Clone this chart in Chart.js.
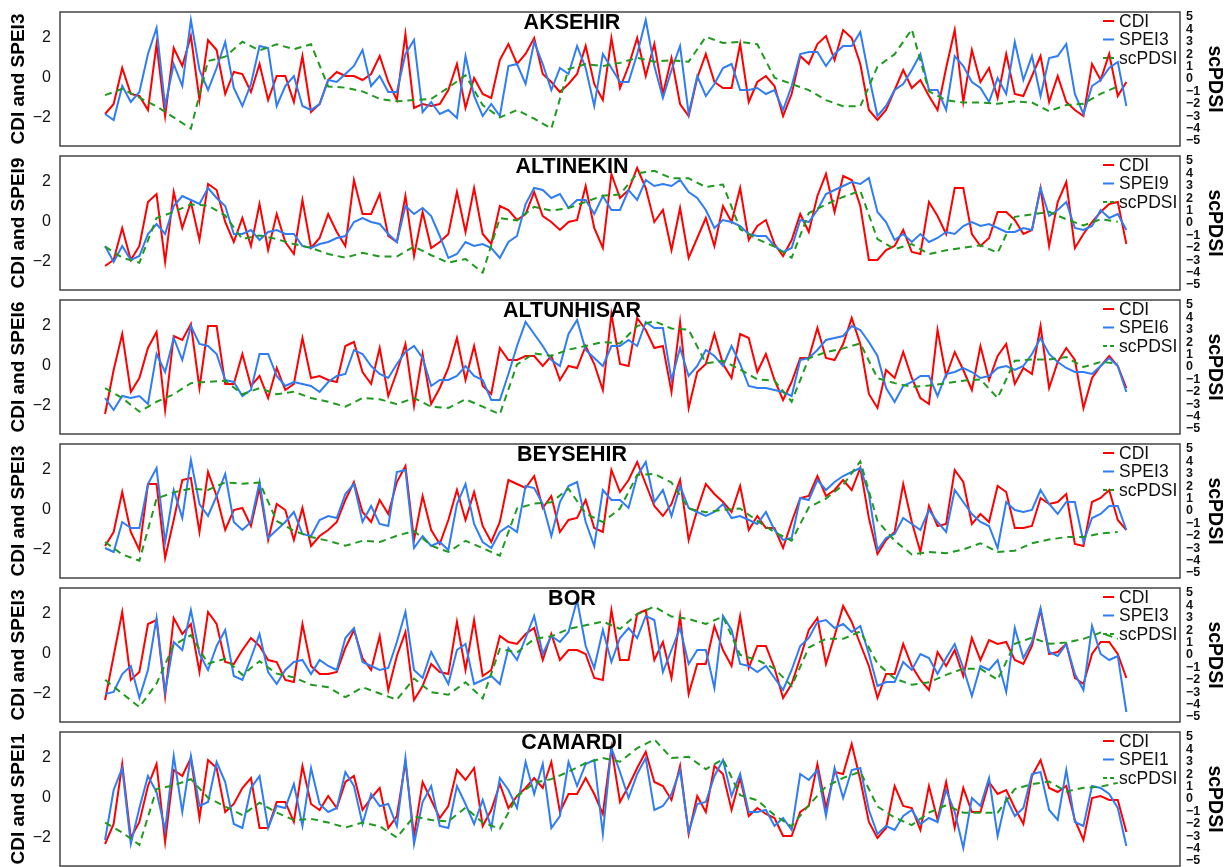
<!DOCTYPE html>
<html><head><meta charset="utf-8">
<script src="https://cdn.jsdelivr.net/npm/chart.js@4.4.1/dist/chart.umd.min.js"></script>
<style>
html,body{margin:0;padding:0;background:#fff;width:1224px;height:867px;overflow:hidden;position:relative;}
canvas{position:absolute;left:0;}
</style></head><body>
<script>
// ---------- categories / labels ----------
const STATIONS = ['AKSEHIR','ALTINEKIN','ALTUNHISAR','BEYSEHIR','BOR','CAMARDI'];
const SPEI_NAMES = ['SPEI3','SPEI9','SPEI6','SPEI3','SPEI3','SPEI1'];
const LEFT_TICKS = [-2,0,2];
const RIGHT_TICKS = [-5,-4,-3,-2,-1,0,1,2,3,4,5];
const CDI_STEP = 2;   // months between CDI / SPEI samples
const PDSI_STEP = 4;  // months between scPDSI samples

// ---------- AKSEHIR ----------
const AKS_CDI = [-1.8,-1.3,0.5,-0.8,-0.9,-1.6,1.7,-1.9,1.5,0.6,
 2.1,-1.1,1.9,1.4,-0.8,0.3,0.2,-0.7,0.7,-1.1,
 0.1,0.1,-1.2,1.1,-1.7,-1.3,-0.1,0.3,0.1,0.1,
 -0.1,0.2,1.1,-0.2,-1.1,2.2,-1.5,-1.3,-1.4,-1.3,
 -0.6,0.7,-1.5,0.0,-0.8,-1.0,0.9,1.7,0.7,1.2,
 2.0,0.2,-0.2,-0.7,-0.3,0.2,1.6,-0.3,-1.1,2.0,
 -0.5,0.6,2.0,0.1,1.7,-0.8,1.0,-1.3,-1.9,0.0,
 1.2,-0.2,-0.5,-0.5,1.7,-1.2,-0.2,0.1,-0.4,-1.9,
 -0.8,1.1,0.7,1.7,2.1,0.9,2.4,2.0,0.7,-1.6,
 -2.1,-1.6,-0.6,0.4,-0.5,-0.1,-0.9,-1.6,0.5,2.4,
 -1.2,1.4,-0.2,0.5,-1.0,1.2,-0.8,-0.9,0.1,1.1,
 -1.2,0.1,-1.2,-1.6,-1.9,0.7,-0.1,1.2,-0.9,-0.2];
const AKS_SPEI = [-1.8,-2.1,-0.4,-1.2,-0.7,1.2,2.5,-1.4,0.7,-0.4,
 2.9,0.4,-0.6,0.5,1.8,-0.5,-1.4,-0.3,1.6,1.5,
 -1.4,-0.4,0.1,-1.4,-1.6,-1.3,-0.1,-0.2,0.2,0.6,
 1.4,-0.4,0.1,-0.7,-0.7,1.2,1.9,-1.7,-1.2,-1.8,
 -1.6,-2.0,1.1,-0.9,-1.9,-1.3,-1.9,0.6,0.7,-0.3,
 1.8,0.7,-0.6,0.5,0.2,1.6,0.5,-1.4,1.2,0.5,
 -0.2,-0.2,1.2,2.9,0.6,-1.0,0.4,1.6,-1.8,0.1,
 -0.9,-0.3,0.5,0.7,-0.6,-0.6,-0.5,-0.8,-0.6,-1.6,
 -0.4,1.2,1.3,1.3,0.6,1.2,1.6,1.6,2.3,0.1,
 -1.9,-1.4,-0.6,-0.3,0.4,1.2,-0.6,-0.6,-1.6,1.1,
 0.6,-0.2,-0.5,-1.2,0.0,-0.8,1.8,-0.1,1.1,-0.9,
 1.0,1.1,1.7,-0.8,-1.8,-0.4,-0.1,0.5,0.8,-1.4];
const AKS_PDSI = [-1.3,-0.8,-1.5,-2.2,-3.1,-4.0,1.45,1.8,3.0,2.3,
 2.8,2.4,2.8,-0.6,-0.7,-1.0,-1.6,-1.8,-1.7,-1.6,
 -0.7,0.3,-2.1,-3.1,-2.5,-3.2,-4.0,0.8,1.2,1.05,
 1.3,1.7,1.4,1.5,1.4,3.4,2.9,3.0,2.8,0.1,
 -0.4,-0.9,-1.7,-2.2,-2.2,1.0,2.0,4.0,-1.0,-1.7,
 -1.9,-1.9,-2.0,-1.8,-1.9,-2.6,-2.1,-2.0,-1.2,-0.6];

// ---------- ALTINEKIN ----------
const ALT_CDI = [-2.2,-1.9,-0.3,-1.9,-1.2,1.0,1.4,-2.0,1.5,-0.3,
 1.0,-0.9,1.9,1.6,0.0,-1.0,0.2,-1.2,0.9,-1.4,
 0.4,-1.0,-1.6,1.1,-1.3,-0.8,0.4,-0.5,-1.2,2.1,
 0.4,0.4,1.4,-0.7,-1.0,1.3,-1.7,0.5,-1.3,-1.0,
 -0.6,1.5,-0.5,1.7,-0.6,-1.1,0.8,0.6,0.1,0.4,
 1.5,0.3,0.0,-0.4,0.0,0.1,1.8,-0.3,-1.3,2.4,
 1.2,1.6,2.7,1.7,0.0,0.6,-1.4,0.7,-1.8,-0.8,
 0.2,-1.2,0.8,0.0,1.7,-0.9,-0.2,0.1,-1.1,-1.7,
 -0.9,0.4,-0.5,1.3,2.4,0.5,2.3,2.1,0.8,-1.9,
 -1.9,-1.4,-1.2,-0.4,-1.5,-1.6,1.0,0.3,-0.6,1.7,
 1.7,-0.6,-1.2,-0.8,0.5,0.5,0.1,-0.6,-0.4,1.7,
 -1.2,1.0,2.0,-1.3,-0.6,0.0,0.5,0.9,1.0,-1.1];
const ALT_SPEI = [-1.2,-2.0,-1.2,-1.9,-1.7,-0.6,-0.1,-0.6,0.8,1.3,
 1.1,0.9,1.7,1.2,0.8,-0.6,-0.6,-0.4,-0.9,-0.5,
 -0.4,-0.6,-0.6,-1.2,-1.3,-1.1,-1.0,-0.8,-0.7,0.0,
 0.2,0.0,-0.1,-0.6,-1.0,0.8,0.4,0.7,0.3,-0.7,
 -1.8,-1.6,-1.0,-1.2,-1.1,-1.3,-1.8,-1.0,-0.7,0.9,
 1.7,1.6,1.2,1.4,0.7,1.1,1.1,0.4,1.3,0.6,
 0.6,1.6,1.1,2.1,1.8,1.9,1.8,2.1,1.5,1.2,
 0.6,-0.3,0.1,0.0,-0.2,-0.6,-0.7,-0.7,-1.2,-1.5,
 -1.3,0.1,0.0,0.6,1.4,1.6,1.8,2.0,1.9,2.2,
 0.5,0.0,-0.9,-0.6,-1.0,-0.6,-1.0,-0.8,-0.5,-0.6,
 -0.2,0.0,-0.2,-0.1,-0.3,-0.5,-0.5,-0.3,-0.4,1.7,
 0.3,0.6,1.0,-0.3,-0.4,-0.2,0.6,0.2,0.4,-0.4];
const ALT_PDSI = [-1.9,-2.8,-3.2,0.4,0.9,1.5,1.4,0.6,-1.3,-1.0,
 -1.3,-1.7,-2.0,-2.5,-2.8,-2.4,-2.7,-2.7,-1.9,-2.6,
 -3.2,-2.9,-4.0,0.4,0.2,1.3,1.0,1.2,1.7,2.2,
 2.3,4.0,4.2,3.6,3.6,2.9,3.1,-0.5,-1.3,-1.9,
 -2.8,0.8,1.5,2.1,2.6,-1.3,-2.1,-1.7,-2.5,-2.2,
 -2.0,-1.8,-2.4,0.5,0.7,0.9,0.3,-0.2,0.3,0.1];

// ---------- ALTUNHISAR ----------
const ALH_CDI = [-2.4,-0.2,1.6,-1.3,-0.6,0.9,1.7,-2.2,1.5,1.3,
 2.1,-1.1,2.0,2.0,-0.9,-0.9,0.6,-1.0,-0.5,-1.6,
 -0.1,-1.2,-0.9,1.4,-0.6,-0.5,-0.7,-0.8,1.0,1.2,
 -0.3,-0.9,0.9,-1.5,-0.3,1.1,-2.0,0.6,-1.9,-1.1,
 -0.1,1.4,-0.7,1.0,-1.0,-1.4,0.9,0.3,0.3,0.5,
 0.5,0.0,0.5,-0.7,0.0,-0.1,1.0,0.1,-1.2,2.6,
 0.1,0.0,2.4,1.8,0.9,1.0,-1.3,2.2,-2.1,-0.3,
 0.1,1.6,0.1,-0.6,1.6,1.4,-0.3,0.6,-0.7,-1.7,
 -0.8,0.4,0.4,1.9,0.4,0.3,1.1,2.4,1.1,-1.4,
 -2.1,-0.2,-0.6,0.7,-0.6,-1.6,-1.9,1.8,-0.5,0.7,
 -0.2,-1.2,1.0,-0.7,0.5,1.1,-0.9,-0.1,-0.4,2.0,
 -1.1,0.2,0.9,0.3,-2.1,-0.6,0.0,0.5,0.0,-1.1];
const ALH_SPEI = [-1.6,-2.2,-1.5,-1.6,-1.5,-1.9,0.6,-0.3,1.4,0.3,
 2.0,1.1,1.0,0.6,-0.7,-0.8,-1.5,-1.2,0.6,0.6,
 -0.5,-1.0,-0.8,-0.9,-1.0,-1.3,-0.8,-0.5,-0.4,0.8,
 0.6,0.0,-0.4,-0.6,0.1,0.7,1.0,0.4,-1.0,-0.7,
 -0.7,-0.5,0.0,-0.5,-0.7,-1.7,-1.7,-0.4,1.0,2.2,
 1.6,1.0,0.3,0.0,1.6,2.3,0.8,0.4,0.0,1.0,
 1.0,1.3,1.0,2.2,1.9,1.9,-0.7,0.9,-0.5,0.0,
 0.8,0.5,0.0,1.0,0.1,-1.0,-1.1,-1.1,-1.2,-1.3,
 -1.5,0.3,0.4,0.8,1.3,1.4,1.5,2.0,1.8,1.2,
 0.5,-1.1,-1.8,-1.0,-0.8,-0.5,-0.5,-1.5,-0.4,-0.3,
 -0.1,-0.3,-0.6,-0.5,-0.1,0.0,-0.2,0.0,0.6,1.4,
 0.6,0.2,-0.1,-0.3,-0.3,-0.4,0.0,0.4,0.0,-1.3];
const ALH_PDSI = [-1.7,-2.5,-3.6,-2.8,-2.2,-1.3,-1.2,-1.1,-2.2,-1.7,
 -2.2,-2.0,-2.5,-2.8,-3.2,-2.5,-2.6,-3.0,-2.5,-3.2,
 -3.3,-2.6,-3.2,-3.8,0.2,1.1,0.9,1.4,1.7,2.0,
 1.9,3.3,3.7,3.1,3.0,0.3,0.5,-0.2,-1.0,-1.1,
 -2.8,0.7,1.2,1.5,1.9,-0.9,-1.3,-1.6,-1.5,-1.3,
 -1.1,-1.0,-2.5,0.5,0.6,0.6,0.8,0.0,0.4,0.3];

// ---------- BEYSEHIR ----------
const BEY_CDI = [-1.8,-1.1,0.9,-1.1,-2.0,1.3,1.3,-2.4,-0.5,1.5,
 1.6,-1.1,1.9,0.7,-1.0,0.0,0.1,-0.8,1.1,-1.5,
 0.3,0.0,-1.5,0.1,-1.8,-1.3,-1.0,-0.6,0.5,1.4,
 -0.1,-0.6,0.5,-0.2,1.4,2.2,-1.5,0.7,-1.0,-1.7,
 -0.5,1.0,-0.5,0.9,-0.8,-1.6,-0.6,1.5,1.3,1.1,
 1.7,0.1,0.7,-1.1,-0.5,-0.4,0.5,-0.9,-1.1,2.0,
 0.9,1.5,2.4,1.3,0.2,-0.3,0.3,1.5,-1.5,0.0,
 1.3,0.8,0.4,-0.1,1.2,-1.0,-0.3,-0.9,-0.9,-1.9,
 -0.6,0.6,0.7,1.7,0.7,1.0,1.5,1.0,2.1,-0.4,
 -2.2,-1.5,-1.1,1.3,-0.6,-2.1,0.2,-0.8,-0.7,2.0,
 1.4,-0.7,-0.2,-0.6,1.2,0.9,-0.9,-0.9,-0.8,0.6,
 0.3,0.4,0.8,-1.7,-1.8,0.4,0.6,1.0,-0.5,-1.0];
const BEY_SPEI = [-1.9,-2.1,-0.6,-0.9,-0.9,1.3,2.1,-1.6,1.0,-0.4,
 2.5,0.3,-0.3,0.7,1.8,-0.6,-1.0,-0.6,1.4,-1.4,
 -1.0,-0.6,-0.1,-1.2,-1.3,-0.5,-0.3,-0.4,0.8,1.3,
 -0.6,0.2,-0.7,-0.8,1.9,2.0,-1.9,-1.3,-1.8,-1.6,
 -2.0,0.3,1.3,-0.7,-1.6,-1.9,-1.1,-0.8,-1.1,1.2,
 1.1,0.3,-1.3,0.4,1.2,1.4,-0.6,-1.8,1.0,0.5,
 0.5,0.1,1.7,2.4,0.4,1.0,-0.3,1.2,0.1,-0.1,
 -0.3,-0.1,0.3,-0.4,-0.3,-0.5,-0.7,-0.1,-1.0,-1.5,
 -1.4,0.6,0.5,1.5,1.0,1.4,1.7,1.9,2.1,0.8,
 -2.0,-1.4,-1.2,-0.4,-0.7,-1.0,0.0,-0.6,-1.1,1.0,
 0.4,-0.2,-0.6,-0.8,-1.9,0.4,0.0,-0.1,0.0,1.0,
 0.3,-0.2,0.4,0.4,-1.6,-0.4,-0.2,0.2,0.2,-1.0];
const BEY_PDSI = [-2.5,-3.5,-4.0,1.0,1.5,1.8,1.7,2.3,2.2,2.3,
 -0.8,-1.6,-2.1,-2.4,-2.8,-2.4,-2.5,-2.0,-1.6,-2.8,
 -3.3,-2.4,-3.0,-3.6,0.2,0.6,0.7,1.8,-0.2,-0.9,
 0.2,2.9,3.0,2.3,0.2,-0.1,0.1,0.2,-0.8,-1.7,
 -2.4,0.3,1.0,2.1,4.0,-0.8,-2.4,-3.5,-3.3,-3.4,
 -3.1,-2.6,-3.3,-3.2,-2.6,-2.3,-2.1,-2.1,-1.8,-1.7];

// ---------- BOR ----------
const BOR_CDI = [-2.3,-0.1,2.1,-1.3,-0.9,1.5,1.7,-2.1,1.8,1.0,
 1.5,-0.9,2.1,1.5,-0.4,-0.5,0.2,0.8,0.4,-0.3,
 -0.4,-1.3,-1.4,1.5,-0.6,-1.0,-1.0,-0.9,0.3,1.2,
 -0.2,-0.8,0.9,-1.8,-0.1,1.1,-2.3,-1.6,-0.5,-0.9,
 -1.0,1.6,-0.8,1.7,-1.1,-0.8,0.9,0.6,0.5,1.0,
 1.3,-0.3,1.0,-0.3,0.2,0.2,0.0,-1.2,-1.3,2.2,
 -0.3,-0.3,2.0,2.2,-0.3,0.6,-1.2,1.9,-2.0,-0.5,
 -0.5,1.4,0.2,-0.6,1.9,-0.7,0.4,0.4,-0.7,-2.2,
 -1.5,-0.2,1.2,1.8,-0.5,0.9,2.4,1.6,0.5,-0.6,
 -2.2,-1.0,-1.0,0.5,-0.6,-1.3,-1.8,0.1,-0.6,0.2,
 -1.1,0.8,-0.3,0.7,0.5,0.6,-0.3,-0.5,0.4,2.2,
 0.0,0.1,0.5,-1.2,-1.5,0.0,0.6,0.6,0.0,-1.2];
const BOR_SPEI = [-2.0,-1.9,-1.0,-0.6,-2.2,-0.8,1.8,-1.9,0.6,0.2,
 2.2,0.0,-0.8,0.4,1.2,-1.1,-1.3,-0.2,1.0,-0.9,
 -1.5,-0.8,-0.4,-0.3,-1.0,-0.3,-0.6,-0.8,0.8,1.3,
 -0.4,-0.6,-0.8,-0.7,0.6,2.1,-0.8,-1.2,0.1,-0.7,
 -1.5,0.2,0.5,-1.5,-1.3,-1.1,-1.5,0.3,-0.3,0.8,
 1.9,0.0,0.9,0.6,1.1,2.7,0.4,-0.7,1.2,-0.4,
 0.8,1.3,0.8,1.9,1.7,-0.9,0.2,1.3,-0.5,0.2,
 0.2,-1.7,1.9,1.2,-0.5,-0.6,-0.9,-0.6,-1.2,-1.8,
 -0.8,0.4,0.8,1.6,1.7,1.3,1.5,1.1,1.4,0.0,
 -1.6,-1.4,-1.4,-0.4,-0.8,0.0,-0.2,-1.0,-0.2,0.5,
 -0.7,-2.1,-0.6,-0.8,-0.3,-1.9,1.3,-0.2,0.6,2.3,
 0.1,-0.1,0.5,-1.0,-1.8,1.4,0.0,-0.3,-0.1,-2.9];
const BOR_PDSI = [-2.0,-3.1,-4.2,-2.3,0.8,1.6,-0.7,-0.3,-1.6,-0.5,
 -1.5,-1.8,-2.4,-2.6,-3.4,-2.6,-3.1,-3.6,-1.9,-3.0,
 -3.2,-2.2,-3.5,0.5,0.2,1.3,1.5,2.1,2.4,2.7,
 2.1,3.3,3.9,3.1,2.9,2.5,3.1,0.0,-0.4,-1.1,
 -2.5,0.6,1.3,1.3,1.9,-0.7,-1.9,-2.4,-2.2,-1.6,
 -1.1,-1.1,-2.0,0.9,1.4,0.9,1.0,1.3,1.8,1.3];

// ---------- CAMARDI ----------
const CAM_CDI = [-2.3,-1.3,1.7,-2.0,-1.2,0.6,1.7,-2.2,1.4,1.1,
 2.0,-1.0,1.9,1.5,-0.7,-0.3,0.5,1.0,-1.5,-1.5,
 -0.2,-0.2,-1.2,1.6,-0.3,-0.6,0.1,-0.5,0.8,1.1,
 -0.6,0.0,0.5,-1.5,-0.9,1.8,-1.9,0.8,-0.1,-1.0,
 -0.4,1.4,0.9,1.5,-1.4,-0.6,0.7,-0.5,0.1,0.5,
 1.0,0.5,1.8,-0.7,0.2,0.2,1.0,0.2,-0.8,2.5,
 -0.2,0.6,1.5,2.3,0.8,0.6,-0.1,1.6,-1.8,0.1,
 -0.7,1.6,1.2,-0.6,1.0,-0.9,-0.5,-0.8,-1.0,-1.9,
 -1.9,-0.7,-0.4,1.7,-0.5,1.3,1.2,2.7,0.9,-1.2,
 -2.0,-1.5,0.6,-0.4,-0.5,-1.6,0.6,-1.1,0.8,-1.5,
 0.5,-0.7,-0.7,0.8,0.2,0.4,-0.5,-1.3,1.1,1.9,
 0.5,0.3,0.6,-1.1,-2.1,0.0,0.1,-0.1,-0.1,-1.7];
const CAM_SPEI = [-2.1,0.4,1.5,-2.3,-0.5,1.1,0.3,-1.6,2.1,-0.7,
 2.1,-0.4,-0.2,1.8,0.8,-1.3,-1.5,0.5,1.1,-1.5,
 -0.4,-0.5,0.7,-1.4,1.5,-0.3,-0.7,-0.5,1.3,0.6,
 -1.3,0.2,-0.4,-0.3,-1.4,2.0,-2.3,-0.2,0.6,-1.4,
 -1.5,0.6,-0.3,-1.3,-0.1,-1.5,1.0,0.4,-0.5,1.8,
 0.2,1.7,-1.5,-0.9,1.8,0.6,1.7,1.9,-1.8,2.5,
 1.3,0.0,1.2,2.0,-0.6,-0.4,0.2,1.4,-1.7,-0.3,
 -0.2,1.1,1.9,0.1,1.2,-0.7,-0.7,-0.6,-1.4,-1.0,
 -1.6,1.2,0.9,1.4,-0.9,1.5,0.0,1.4,1.5,-0.6,
 -1.8,-1.4,-1.6,-0.9,-0.6,-1.3,-1.0,-1.2,0.4,-0.7,
 -2.5,0.0,-0.4,1.0,-1.9,0.0,-0.9,-0.5,1.2,1.3,
 -0.6,-1.1,1.4,-1.2,-1.4,0.6,0.5,0.2,-0.5,-2.4];
const CAM_PDSI = [-1.9,-2.7,-3.7,0.8,1.1,1.6,0.1,-0.6,-1.3,-0.3,
 -1.1,-1.7,-1.6,-1.9,-2.3,-1.9,-2.2,-3.1,-1.4,-1.7,
 -1.8,-0.7,-1.9,-2.4,0.2,1.3,1.6,2.2,2.9,3.3,
 3.0,4.1,4.8,3.3,3.4,2.4,3.2,0.3,-0.1,-1.3,
 -2.2,-0.5,1.0,1.7,2.2,-0.6,-1.5,-2.1,-1.1,-0.5,
 -1.1,-1.1,-1.1,0.8,1.2,1.4,0.6,0.9,1.0,1.3];

const CDI_SERIES  = [AKS_CDI, ALT_CDI, ALH_CDI, BEY_CDI, BOR_CDI, CAM_CDI];
const SPEI_SERIES = [AKS_SPEI, ALT_SPEI, ALH_SPEI, BEY_SPEI, BOR_SPEI, CAM_SPEI];
const PDSI_SERIES = [AKS_PDSI, ALT_PDSI, ALH_PDSI, BEY_PDSI, BOR_PDSI, CAM_PDSI];

// ---------- styling ----------
const FONT = "'Liberation Sans', Arial, Helvetica, sans-serif";
const RED = '#ff0000', BLUE = '#2e7df5', GREEN = '#1e9a1e';
const PANEL_H = 144, CANVAS_H = 150;

function minus(v){ return v < 0 ? '\u2212' + Math.abs(v) : String(v); }
function toXY(arr, step){ return arr.map((v,i)=>({x:i*step, y:v})); }
function fixWidth(w){ return s => { s.width = w; s.paddingTop = 0; s.paddingBottom = 0; }; }

const decoPlugin = {
  id: 'deco',
  afterDatasetsDraw(chart, args, o){
    const ctx = chart.ctx, a = chart.chartArea;
    ctx.save();
    ctx.strokeStyle = '#444'; ctx.lineWidth = 1.5;
    ctx.strokeRect(a.left, a.top, a.right - a.left, a.bottom - a.top);
    ctx.fillStyle = '#000';
    ctx.font = 'bold 21.5px ' + FONT;
    ctx.textAlign = 'center'; ctx.textBaseline = 'middle';
    ctx.fillText(o.station, 572, 23);
    const items = [['CDI', RED, []], [o.spei, BLUE, []], ['scPDSI', GREEN, [4,3]]];
    ctx.font = '17.5px ' + FONT;
    ctx.textAlign = 'left';
    items.forEach((it, k) => {
      const y = 21 + k*18.5;
      ctx.strokeStyle = it[1]; ctx.lineWidth = 2; ctx.setLineDash(it[2]);
      ctx.beginPath(); ctx.moveTo(1103, y); ctx.lineTo(1114, y); ctx.stroke();
      ctx.setLineDash([]);
      ctx.fillStyle = '#111';
      ctx.fillText(it[0], 1119, y + 1);
    });
    ctx.font = 'bold 19px ' + FONT;
    ctx.textAlign = 'center';
    ctx.fillStyle = '#000';
    ctx.save(); ctx.translate(19, 79); ctx.rotate(-Math.PI/2);
    ctx.fillText('CDI and ' + o.spei, 0, 0); ctx.restore();
    ctx.font = 'bold 19.5px ' + FONT;
    ctx.save(); ctx.translate(1214, 79); ctx.rotate(Math.PI/2);
    ctx.fillText('scPDSI', 0, 0); ctx.restore();
    ctx.restore();
  }
};

STATIONS.forEach((name, k) => {
  const cv = document.createElement('canvas');
  cv.width = 1224; cv.height = CANVAS_H;
  cv.style.top = (k * PANEL_H) + 'px';
  cv.style.width = '1224px'; cv.style.height = CANVAS_H + 'px';
  document.body.appendChild(cv);
  new Chart(cv.getContext('2d'), {
    type: 'line',
    data: {
      datasets: [
        {label:'CDI', data: toXY(CDI_SERIES[k], CDI_STEP), yAxisID:'y', borderColor:RED,
         borderWidth:2, pointRadius:0, tension:0, fill:false, order:2},
        {label:SPEI_NAMES[k], data: toXY(SPEI_SERIES[k], CDI_STEP), yAxisID:'y', borderColor:BLUE,
         borderWidth:2, pointRadius:0, tension:0, fill:false, order:1},
        {label:'scPDSI', data: toXY(PDSI_SERIES[k], PDSI_STEP), yAxisID:'y2', borderColor:GREEN,
         borderWidth:2, borderDash:[7,5], pointRadius:0, tension:0, fill:false, order:0}
      ]
    },
    options: {
      responsive:false, animation:false, devicePixelRatio:1,
      layout:{padding:{top:12, bottom:CANVAS_H-146, left:0, right:0}},
      plugins:{legend:{display:false}, title:{display:false}, tooltip:{enabled:false},
               deco:{station:name, spei:SPEI_NAMES[k]}},
      scales:{
        x:{type:'linear', display:false, min:-10.5, max:250.5},
        y:{position:'left', min:-3.4, max:3.3,
           grid:{display:false, drawTicks:false}, border:{display:false},
           afterBuildTicks: s => { s.ticks = LEFT_TICKS.map(v=>({value:v})); },
           afterFit: fixWidth(60),
           ticks:{autoSkip:false, padding:9, color:'#111', font:{family:FONT, size:16},
                  callback: v => minus(v)}},
        y2:{position:'right', min:-5.4, max:5.4,
           grid:{display:false, drawTicks:false}, border:{display:false},
           afterBuildTicks: s => { s.ticks = RIGHT_TICKS.map(v=>({value:v})); },
           afterFit: fixWidth(44),
           ticks:{autoSkip:false, padding:6, color:'#111', font:{family:FONT, size:12.5, weight:'bold'},
                  callback: v => minus(v)}}
      }
    },
    plugins:[decoPlugin]
  });
});
</script>
</body></html>
